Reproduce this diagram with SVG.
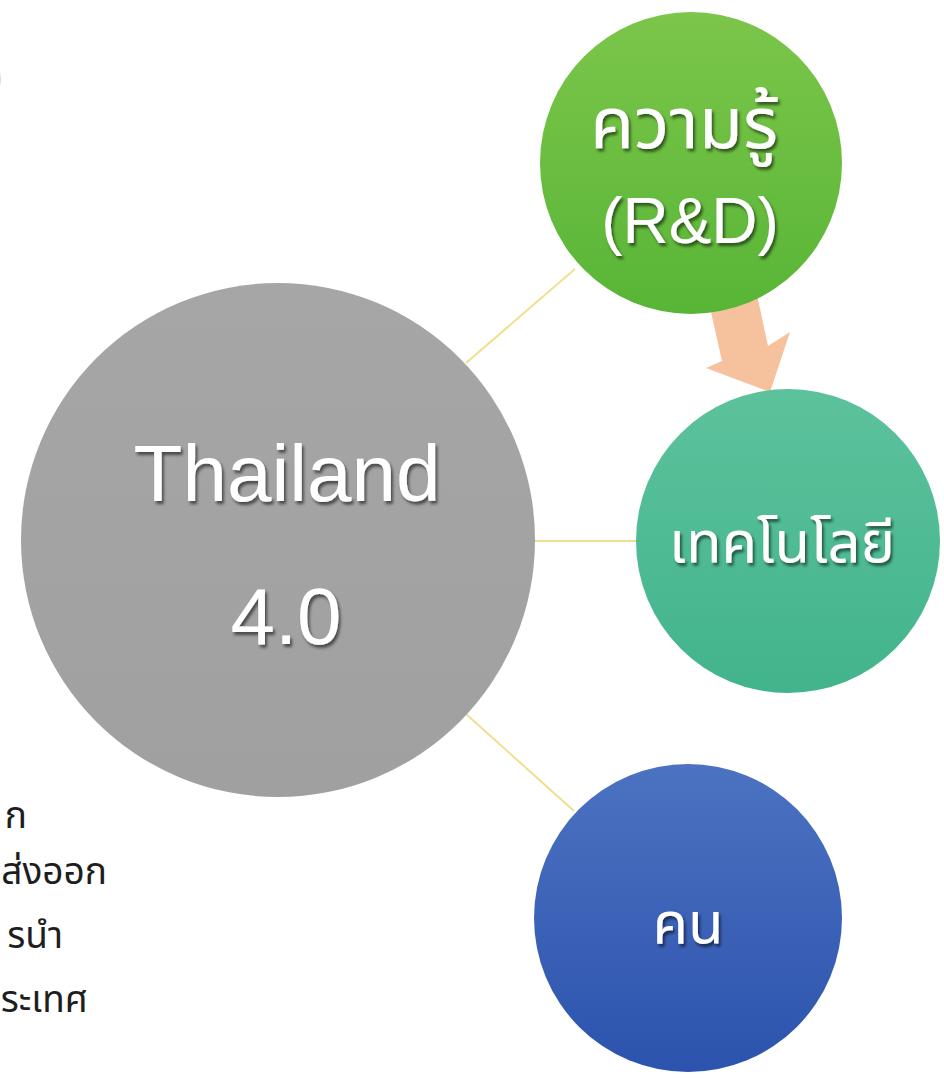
<svg xmlns="http://www.w3.org/2000/svg" width="944" height="1079" viewBox="0 0 944 1079">
  <defs>
    <style>
      .lbl { fill: #ffffff; text-anchor: middle; font-family: "Noto Sans Thai", "Noto Sans Thai UI", "Noto Sans", "DejaVu Sans", sans-serif; filter: url(#ts); }
      .en { font-family: "Liberation Sans", Arial, sans-serif; }
      .side { fill: #1e1e1e; text-anchor: end; font-family: "Noto Sans Thai", "Noto Sans Thai UI", "Noto Sans", "DejaVu Sans", sans-serif; font-size: 37px; }
      .conn { stroke: #efdf8e; stroke-width: 2; fill: none; }
    </style>
    <filter id="ts" x="-10%" y="-20%" width="130%" height="150%">
      <feDropShadow dx="2" dy="3" stdDeviation="1.5" flood-color="#000000" flood-opacity="0.55"/>
    </filter>
    <linearGradient id="gGray" x1="0" y1="0" x2="0" y2="1">
      <stop offset="0" stop-color="#a6a6a6"/>
      <stop offset="1" stop-color="#a0a0a0"/>
    </linearGradient>
    <linearGradient id="gGreen" x1="0" y1="0" x2="0" y2="1">
      <stop offset="0" stop-color="#7cc64a"/>
      <stop offset="1" stop-color="#58b536"/>
    </linearGradient>
    <linearGradient id="gTeal" x1="0" y1="0" x2="0" y2="1">
      <stop offset="0" stop-color="#5cc29c"/>
      <stop offset="1" stop-color="#42b48c"/>
    </linearGradient>
    <linearGradient id="gBlue" x1="0" y1="0" x2="0" y2="1">
      <stop offset="0" stop-color="#4c72c1"/>
      <stop offset="1" stop-color="#2c53ad"/>
    </linearGradient>
  </defs>
  <rect width="944" height="1079" fill="#ffffff"/>

  <text x="3" y="90" font-family="Liberation Sans, sans-serif" font-size="40" fill="#f2c40c" text-anchor="end">)</text>

  <g id="connectors">
    <line class="conn" x1="466" y1="363" x2="575" y2="269"/>
    <line class="conn" x1="533" y1="541" x2="639" y2="541"/>
    <line class="conn" x1="466" y1="714" x2="574" y2="811"/>
    <polygon fill="#f6c29e" points="706,290 722,361 706,368 770,392 790,332 768,346 756,290"/>
  </g>

  <g id="node-thailand">
    <circle cx="278" cy="540" r="257" fill="url(#gGray)"/>
    <text class="lbl en" x="287" y="501" font-size="80">Thailand</text>
    <text class="lbl en" x="286" y="644" font-size="80">4.0</text>
  </g>

  <g id="node-knowledge">
    <circle cx="691" cy="163" r="151" fill="url(#gGreen)"/>
    <text class="lbl" x="684" y="148" font-size="72">ความรู้</text>
    <text class="lbl en" x="690" y="243" font-size="64">(R&amp;D)</text>
  </g>

  <g id="node-technology">
    <circle cx="788" cy="541" r="152" fill="url(#gTeal)"/>
    <text class="lbl" x="782" y="562" font-size="58">เทคโนโลยี</text>
  </g>

  <g id="node-people">
    <circle cx="688" cy="918" r="154" fill="url(#gBlue)"/>
    <text class="lbl" x="688" y="943" font-size="58">คน</text>
  </g>

  <g id="side-text">
    <text class="side" x="27" y="828">ก</text>
    <text class="side" x="107" y="884">ส่งออก</text>
    <text class="side" x="63" y="948">รนำ</text>
    <text class="side" x="88" y="1012">ระเทศ</text>
  </g>
</svg>
